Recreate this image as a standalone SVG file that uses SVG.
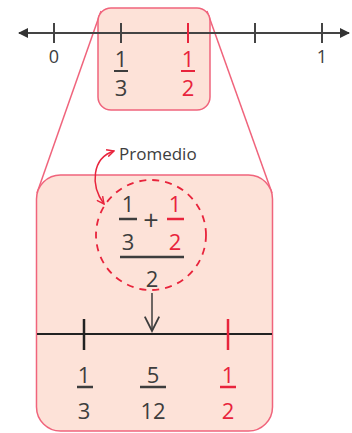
<svg xmlns="http://www.w3.org/2000/svg" width="352" height="433" viewBox="0 0 352 433">
<defs>
<style>
.box{fill:#fde2d8;stroke:#f0647c;stroke-width:1.5}
.zoom{stroke:#f0647c;stroke-width:1.5;fill:none}
.axis{stroke:#444;stroke-width:2;fill:none}
.tick{stroke:#444;stroke-width:2}
.rtick{stroke:#e8243c;stroke-width:2.5}
.t{font-family:"Open Sans","Noto Sans",sans-serif;fill:#3d3d3d;text-anchor:middle}
.r{fill:#e8243c}
.bar{stroke:#3d3d3d;stroke-width:2.5}
.rbar{stroke:#e8243c;stroke-width:2.5}
</style>
<marker id="tri" viewBox="0 0 10 10" refX="9" refY="5" markerWidth="15" markerHeight="10" markerUnits="userSpaceOnUse" orient="auto-start-reverse">
<path d="M0,0 L10,5 L0,10 Z" fill="#333"/>
</marker>
<marker id="chev" viewBox="0 0 10 10" refX="9" refY="5" markerWidth="9" markerHeight="9" markerUnits="userSpaceOnUse" orient="auto-start-reverse">
<path d="M1,1 L9,5 L1,9" fill="none" stroke="#e8243c" stroke-width="1.6"/>
</marker>
<marker id="chevd" viewBox="0 0 10 10" refX="9" refY="5" markerWidth="18" markerHeight="18" markerUnits="userSpaceOnUse" orient="auto">
<path d="M1,1 L9,5 L1,9" fill="none" stroke="#3d3d3d" stroke-width="1"/>
</marker>
</defs>

<g id="connectors">
<line class="zoom" x1="101" y1="11" x2="37" y2="193"/>
<line class="zoom" x1="207" y1="11" x2="272" y2="193"/>
</g>

<g id="big-box">
<rect class="box" x="36.5" y="175" width="236" height="256" rx="24"/>
</g>

<g id="small-box">
<rect class="box" x="98" y="8" width="112" height="102" rx="13"/>
</g>

<g id="top-line">
<line class="axis" x1="19" y1="33" x2="349" y2="33" marker-start="url(#tri)" marker-end="url(#tri)"/>
<line class="tick" x1="54" y1="23" x2="54" y2="43"/>
<line class="tick" x1="121" y1="23" x2="121" y2="43"/>
<line class="rtick" x1="188" y1="23" x2="188" y2="43" style="stroke-width:2"/>
<line class="tick" x1="255" y1="23" x2="255" y2="43"/>
<line class="tick" x1="322" y1="23" x2="322" y2="43"/>
<text class="t" x="54" y="63" font-size="18">0</text>
<text class="t" x="322" y="63" font-size="18">1</text>
<text class="t" x="121" y="67" font-size="22">1</text>
<line class="bar" x1="114" y1="71" x2="128" y2="71" style="stroke-width:2"/>
<text class="t" x="121" y="96" font-size="22">3</text>
<text class="t r" x="188" y="67" font-size="22">1</text>
<line class="rbar" x1="181" y1="71" x2="195" y2="71" style="stroke-width:2"/>
<text class="t r" x="188" y="96" font-size="22">2</text>
</g>

<g id="promedio">
<text class="t" x="119" y="160" font-size="17" style="text-anchor:start">Promedio</text>
<path d="M104,204 C90,185 92,158 114,151" fill="none" stroke="#e8243c" stroke-width="1.5" marker-start="url(#chev)" marker-end="url(#chev)"/>
</g>

<g id="average">
<circle cx="151" cy="235" r="55" fill="none" stroke="#e8243c" stroke-width="1.8" stroke-dasharray="7,6"/>
<text class="t" x="128" y="212" font-size="22">1</text>
<line class="bar" x1="119" y1="219" x2="137" y2="219"/>
<text class="t" x="128" y="250" font-size="22">3</text>
<text class="t" x="151" y="230" font-size="27">+</text>
<text class="t r" x="175" y="212" font-size="22">1</text>
<line class="rbar" x1="167" y1="219" x2="184" y2="219"/>
<text class="t r" x="175" y="250" font-size="22">2</text>
<line class="bar" x1="120" y1="257" x2="184" y2="257"/>
<text class="t" x="152" y="287" font-size="22">2</text>
</g>

<g id="arrow-down">
<line x1="152" y1="293" x2="152" y2="331" stroke="#3d3d3d" stroke-width="1.5" marker-end="url(#chevd)"/>
</g>

<g id="bottom-line">
<line class="axis" x1="37" y1="334" x2="272" y2="334" style="stroke:#222"/>
<line class="tick" x1="84" y1="319" x2="84" y2="350" style="stroke:#222;stroke-width:2.5"/>
<line class="rtick" x1="228" y1="319" x2="228" y2="350"/>
<text class="t" x="84" y="383" font-size="22">1</text>
<line class="bar" x1="77" y1="387" x2="93" y2="387"/>
<text class="t" x="84" y="419" font-size="22">3</text>
<text class="t" x="153" y="383" font-size="22">5</text>
<line class="bar" x1="140" y1="387" x2="166" y2="387"/>
<text class="t" x="153" y="419" font-size="22">12</text>
<text class="t r" x="228" y="383" font-size="22">1</text>
<line class="rbar" x1="220" y1="387" x2="236" y2="387"/>
<text class="t r" x="228" y="419" font-size="22">2</text>
</g>
</svg>
